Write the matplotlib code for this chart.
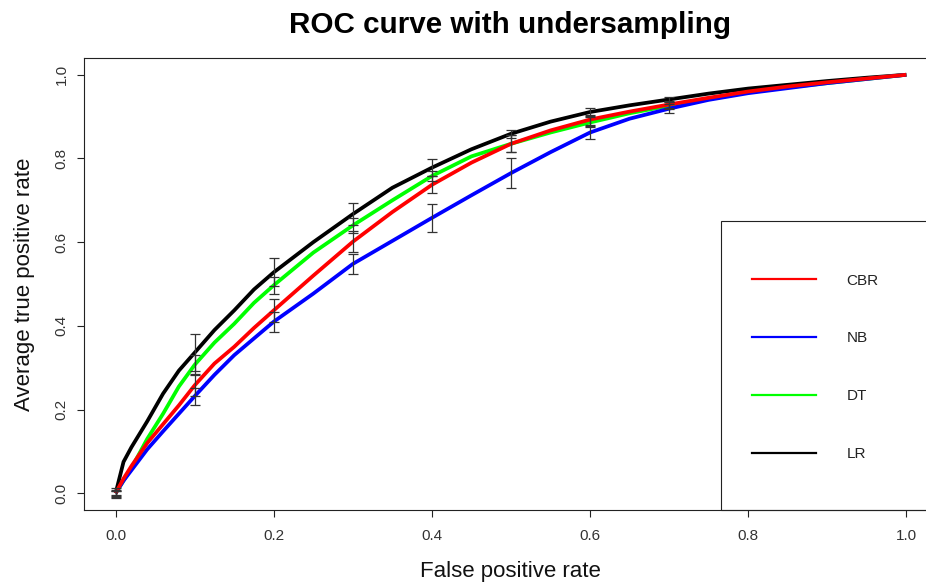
import numpy as np
import matplotlib.pyplot as plt
from matplotlib.lines import Line2D
from matplotlib.patches import Rectangle

plt.rcParams['font.family'] = ['Liberation Sans', 'DejaVu Sans']

# false positive rate grid and average true positive rate
fpr = [0.0, 0.01, 0.02, 0.04, 0.06, 0.08, 0.1, 0.125, 0.15, 0.175, 0.2, 0.25,
       0.3, 0.35, 0.4, 0.45, 0.5, 0.55, 0.6, 0.65, 0.7, 0.75, 0.8, 0.85, 0.9,
       0.95, 1.0]
tpr_lr = [0.0, 0.075, 0.11, 0.172, 0.238, 0.293, 0.336, 0.39, 0.437, 0.487, 0.528, 0.60,
          0.667, 0.73, 0.778, 0.822, 0.859, 0.888, 0.911, 0.927, 0.941, 0.955, 0.967,
          0.976, 0.985, 0.993, 1.0]
tpr_dt = [0.0, 0.03, 0.06, 0.13, 0.19, 0.255, 0.307, 0.36, 0.405, 0.455, 0.497, 0.575,
          0.64, 0.70, 0.758, 0.805, 0.835, 0.862, 0.886, 0.908, 0.926, 0.942, 0.958,
          0.97, 0.98, 0.99, 1.0]
tpr_nb = [0.0, 0.03, 0.055, 0.105, 0.148, 0.19, 0.232, 0.283, 0.33, 0.37, 0.41, 0.477,
          0.548, 0.603, 0.658, 0.712, 0.765, 0.815, 0.862, 0.895, 0.919, 0.94, 0.956,
          0.968, 0.98, 0.99, 1.0]
tpr_cbr = [0.0, 0.035, 0.065, 0.12, 0.165, 0.21, 0.258, 0.31, 0.35, 0.395, 0.437, 0.52,
           0.601, 0.672, 0.737, 0.79, 0.835, 0.867, 0.893, 0.912, 0.929, 0.945, 0.96,
           0.972, 0.982, 0.991, 1.0]

# error bars (half widths) at fpr = 0.0 ... 0.7
err_x = [0.0, 0.1, 0.2, 0.3, 0.4, 0.5, 0.6, 0.7]
err_lr = [0.012, 0.045, 0.033, 0.027, 0.02, 0.009, 0.01, 0.006]
err_dt = [0.008, 0.024, 0.02, 0.017, 0.012, 0.02, 0.012, 0.008]
err_nb = [0.005, 0.02, 0.024, 0.024, 0.034, 0.036, 0.016, 0.01]
err_cbr = [0.006, 0.026, 0.028, 0.025, 0.02, 0.02, 0.012, 0.008]

names = ['CBR', 'NB', 'DT', 'LR']
colors = {'CBR': '#ff0000', 'NB': '#0000ff', 'DT': '#00ff00', 'LR': '#000000'}
curves = {'LR': tpr_lr, 'DT': tpr_dt, 'NB': tpr_nb, 'CBR': tpr_cbr}
errors = {'LR': err_lr, 'DT': err_dt, 'NB': err_nb, 'CBR': err_cbr}

fig = plt.figure(figsize=(9.26, 5.82), dpi=100)
ax = fig.add_axes([0.0907, 0.1237, 0.9222, 0.7766])

x = np.array(fpr)
for name in ['LR', 'DT', 'NB', 'CBR']:
    ax.plot(x, curves[name], color=colors[name], lw=2.7, solid_capstyle='butt', zorder=2)

for name in ['LR', 'DT', 'NB', 'CBR']:
    y = np.array(curves[name])
    mean = y[np.isin(x, err_x)]
    ax.errorbar(err_x, mean, yerr=errors[name], fmt='none', ecolor='#333333',
                elinewidth=0.9, capsize=3.6, capthick=0.9, zorder=3)

ax.set_xlim(-0.04, 1.04)
ax.set_ylim(-0.04, 1.04)
ticks = [0.0, 0.2, 0.4, 0.6, 0.8, 1.0]
ax.set_xticks(ticks)
ax.set_yticks(ticks)
ax.set_xticklabels(['%.1f' % t for t in ticks])
ax.set_yticklabels(['%.1f' % t for t in ticks], rotation=90, va='center')
ax.tick_params(axis='both', direction='out', length=5, width=0.8, colors='#222222',
               labelcolor='#333333')
ax.tick_params(axis='x', labelsize=11, pad=9)
ax.tick_params(axis='y', labelsize=11, pad=6)
for sp in ax.spines.values():
    sp.set_linewidth(0.8)
    sp.set_color('#222222')

fig.text(0.5508, 1 - 33 / 582, 'ROC curve with undersampling', ha='center',
         va='baseline', fontsize=21.3, fontweight='bold')
fig.text(0.5508, 1 - 577 / 582, 'False positive rate', ha='center', va='baseline',
         fontsize=16, color='#111111')
fig.text(25 / 926, 1 - 284 / 582, 'Average true positive rate', ha='center',
         va='center', rotation=90, fontsize=16, color='#111111')

# legend box, running off the right edge like the original
ax.add_patch(Rectangle((0.746, 0.0), 0.4, 0.639, transform=ax.transAxes,
                       fill=False, edgecolor='#222222', lw=0.8, clip_on=False, zorder=4))
handles = [Line2D([], [], color=colors[n], lw=1.6) for n in names]
ax.legend(handles, names, loc='upper left', bbox_to_anchor=(0.782, 0.523),
          frameon=False, fontsize=11, borderpad=0, borderaxespad=0,
          handlelength=4.2, handletextpad=2.0, labelspacing=2.87, labelcolor='#222222')

fig.savefig('out.png', dpi=100)
